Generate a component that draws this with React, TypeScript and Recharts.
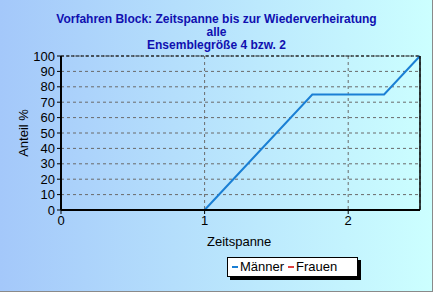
import { CartesianGrid, Line, LineChart, XAxis, YAxis } from "recharts";

const zeitspanne = [1, 1.75, 2.25, 2.5];
const maenner = [0, 75, 75, 100];
const frauen: (number | null)[] = [null, null, null, null];

const xTicks = [0, 1, 2];
const yTicks = [0, 10, 20, 30, 40, 50, 60, 70, 80, 90, 100];

const titleLines = [
  "Vorfahren Block: Zeitspanne bis zur Wiederverheiratung",
  "alle",
  "Ensemblegröße 4 bzw. 2",
];

const data = zeitspanne.map((x, i) => ({ x, maenner: maenner[i], frauen: frauen[i] }));

const font = "Arial, 'Liberation Sans', sans-serif";

export default function App() {
  return (
    <div
      style={{
        position: "absolute",
        left: 0,
        top: 0,
        width: 433,
        height: 292,
        boxSizing: "border-box",
        borderRight: "1px solid #8a8a8a",
        borderBottom: "1px solid #8a8a8a",
        background: "linear-gradient(to right, #a4c8fa, #ccffff)",
        fontFamily: font,
      }}
    >
      <div
        style={{
          position: "absolute",
          top: 13,
          left: 0,
          width: 433,
          textAlign: "center",
          color: "#1010b0",
          fontWeight: "bold",
          fontSize: 12,
          lineHeight: "13px",
        }}
      >
        {titleLines.map((t) => (
          <div key={t}>{t}</div>
        ))}
      </div>
      <LineChart
        width={433}
        height={292}
        data={data}
        margin={{ top: 56, right: 13, left: 25, bottom: 62 }}
        style={{ position: "absolute", left: 0, top: 0 }}
      >
        <CartesianGrid stroke="#6a6a6a" strokeDasharray="3 3" vertical horizontal />
        <XAxis
          type="number"
          dataKey="x"
          domain={[0, 2.5]}
          ticks={xTicks}
          allowDataOverflow
          axisLine={{ stroke: "#000", strokeWidth: 2 }}
          tickLine={{ stroke: "#000" }}
          tickSize={4}
          tick={{ fill: "#000", fontSize: 13, fontFamily: font }}
          height={20}
        />
        <YAxis
          type="number"
          domain={[0, 100]}
          ticks={yTicks}
          interval={0}
          width={36}
          axisLine={{ stroke: "#000", strokeWidth: 2 }}
          tickLine={{ stroke: "#000" }}
          tickSize={4}
          tick={{ fill: "#000", fontSize: 13, fontFamily: font }}
        />
        <Line
          dataKey="frauen"
          stroke="#e04040"
          strokeWidth={2}
          dot={false}
          isAnimationActive={false}
        />
        <Line
          dataKey="maenner"
          type="linear"
          stroke="#1a7fd4"
          strokeWidth={2}
          dot={false}
          isAnimationActive={false}
        />
      </LineChart>
      <svg style={{ position: "absolute", left: 0, top: 0 }} width={433} height={292}>
        <line x1={420} y1={56} x2={420} y2={210} stroke="#000" strokeWidth={1.5} />
        <line x1={61} y1={56} x2={420} y2={56} stroke="#000" strokeDasharray="3 2" />
        <text x={28} y={133} transform="rotate(-90 28 133)" textAnchor="middle" fontSize={13} fontFamily={font} fill="#000">
          Anteil %
        </text>
        <text x={207} y={246} fontSize={13} fontFamily={font} fill="#000">
          Zeitspanne
        </text>
      </svg>
      <div
        style={{
          position: "absolute",
          left: 227,
          top: 257,
          width: 125,
          height: 18,
          background: "#fff",
          border: "1px solid #000",
          boxShadow: "3px 3px 0 #000",
          fontSize: 13,
          lineHeight: "18px",
          color: "#000",
          display: "flex",
          alignItems: "center",
          paddingLeft: 4,
          boxSizing: "content-box",
        }}
      >
        <span style={{ display: "inline-block", width: 6, height: 2, background: "#1a7fd4", marginRight: 2 }} />
        <span>Männer</span>
        <span style={{ display: "inline-block", width: 6, height: 2, background: "#e04040", margin: "0 2px 0 4px" }} />
        <span>Frauen</span>
      </div>
    </div>
  );
}
